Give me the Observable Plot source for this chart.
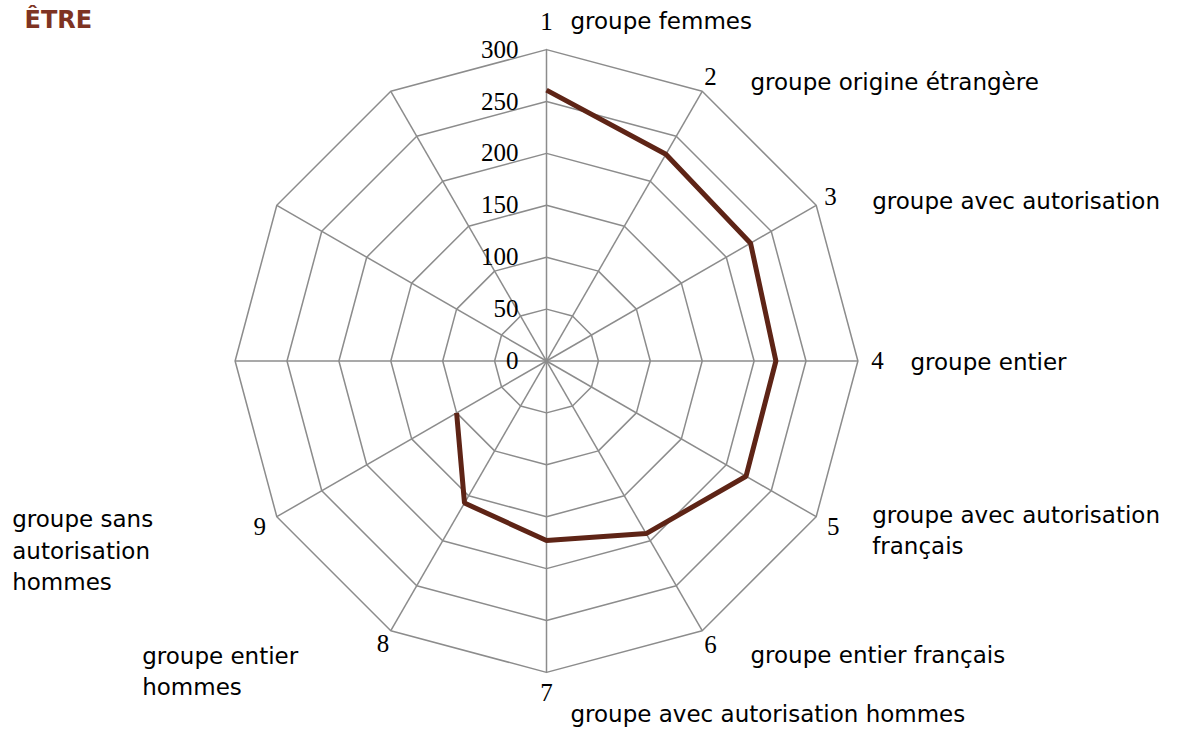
<!DOCTYPE html>
<html>
<head>
<meta charset="utf-8">
<script src="https://cdn.jsdelivr.net/npm/d3@7"></script>
<script src="https://cdn.jsdelivr.net/npm/@observablehq/plot@0.6"></script>
<style>
html, body { margin: 0; padding: 0; background: #ffffff; }
#chart { width: 1181px; height: 735px; }
</style>
</head>
<body>
<div id="chart"></div>
<script>
// ---- data ----
const title = "ÊTRE";
const spokeNumbers = ["1", "2", "3", "4", "5", "6", "7", "8", "9", "", "", ""];
const categories = [
  "groupe femmes",
  "groupe origine étrangère",
  "groupe avec autorisation",
  "groupe entier",
  "groupe avec autorisation\nfrançais",
  "groupe entier français",
  "groupe avec autorisation hommes",
  "groupe entier\nhommes",
  "groupe sans\nautorisation\nhommes",
  "", "", ""
];
const values = [261, 230, 227, 221, 222, 192, 173, 158, 100];
const ticks = [0, 50, 100, 150, 200, 250, 300];

// ---- layout ----
const W = 1181, H = 735, CX = 546, CY = 360.5, RPX = 311.4, MAX = 300;
const K = RPX / MAX; // px per unit
const labelOffsets = [[24, -20.7], [48.3, -1.8], [56, 4], [52.6, 8.5], [56, 5.8], [48.3, 32], [24, 50], [-248.6, 33], [-264.6, 10.5], [0, 0], [0, 0], [0, 0]];
const numberRadiusPx = [339, 328, 328, 331, 331, 328, 332, 327, 331, 0, 0, 0];
const lineStep = 31.5;

const n = categories.length;
const ang = i => i * 2 * Math.PI / n;
const px = (r, i) => r * Math.sin(ang(i));
const py = (r, i) => r * Math.cos(ang(i));

const rings = [];
ticks.filter(t => t > 0).forEach(t => {
  for (let i = 0; i <= n; i++) rings.push({ring: t, x: px(t, i % n), y: py(t, i % n)});
});
const spokes = d3.range(n).map(i => ({x2: px(MAX, i), y2: py(MAX, i)}));
const points = values.map((v, i) => ({x: px(v, i), y: py(v, i)}));
const numbers = spokeNumbers.map((s, i) => ({
  text: s, x: px(numberRadiusPx[i] / K, i), y: py(numberRadiusPx[i] / K, i)
})).filter(d => d.text);
const catLines = [];
categories.forEach((c, i) => {
  if (!c) return;
  c.split("\n").forEach((line, j) => {
    catLines.push({
      text: line,
      x: px(MAX, i) + labelOffsets[i][0] / K,
      y: py(MAX, i) - (labelOffsets[i][1] + j * lineStep) / K
    });
  });
});

const chart = Plot.plot({
  width: W,
  height: H,
  margin: 0,
  style: {background: "#ffffff"},
  x: {type: "linear", domain: [-CX / K, (W - CX) / K], range: [0, W], axis: null},
  y: {type: "linear", domain: [-(H - CY) / K, CY / K], range: [H, 0], axis: null},
  marks: [
    Plot.line(rings, {x: "x", y: "y", z: "ring", stroke: "#8c8c8c", strokeWidth: 1.5}),
    Plot.link(spokes, {x1: () => 0, y1: () => 0, x2: "x2", y2: "y2", stroke: "#8c8c8c", strokeWidth: 1.5}),
    Plot.line(points, {x: "x", y: "y", stroke: "#5e2416", strokeWidth: 5, strokeLinejoin: "miter", strokeLinecap: "butt"}),
    Plot.text(ticks, {x: () => 0, y: d => d, text: d => String(d), textAnchor: "end", dx: -28,
      fontFamily: "Liberation Serif", fontSize: 25, fill: "#000000"}),
    Plot.text(numbers, {x: "x", y: "y", text: "text", textAnchor: "middle",
      fontFamily: "Liberation Serif", fontSize: 25, fill: "#000000"}),
    Plot.text(catLines, {x: "x", y: "y", text: "text", textAnchor: "start", lineAnchor: "bottom",
      fontFamily: "DejaVu Sans", fontSize: 23, fill: "#000000"}),
    Plot.text([title], {frameAnchor: "top-left", text: d => d, dx: 24, dy: 27, lineAnchor: "bottom", textAnchor: "start",
      fontFamily: "DejaVu Sans", fontWeight: "bold", fontSize: 24, fill: "#7e3322"})
  ]
});
document.getElementById("chart").appendChild(chart);
</script>
</body>
</html>
